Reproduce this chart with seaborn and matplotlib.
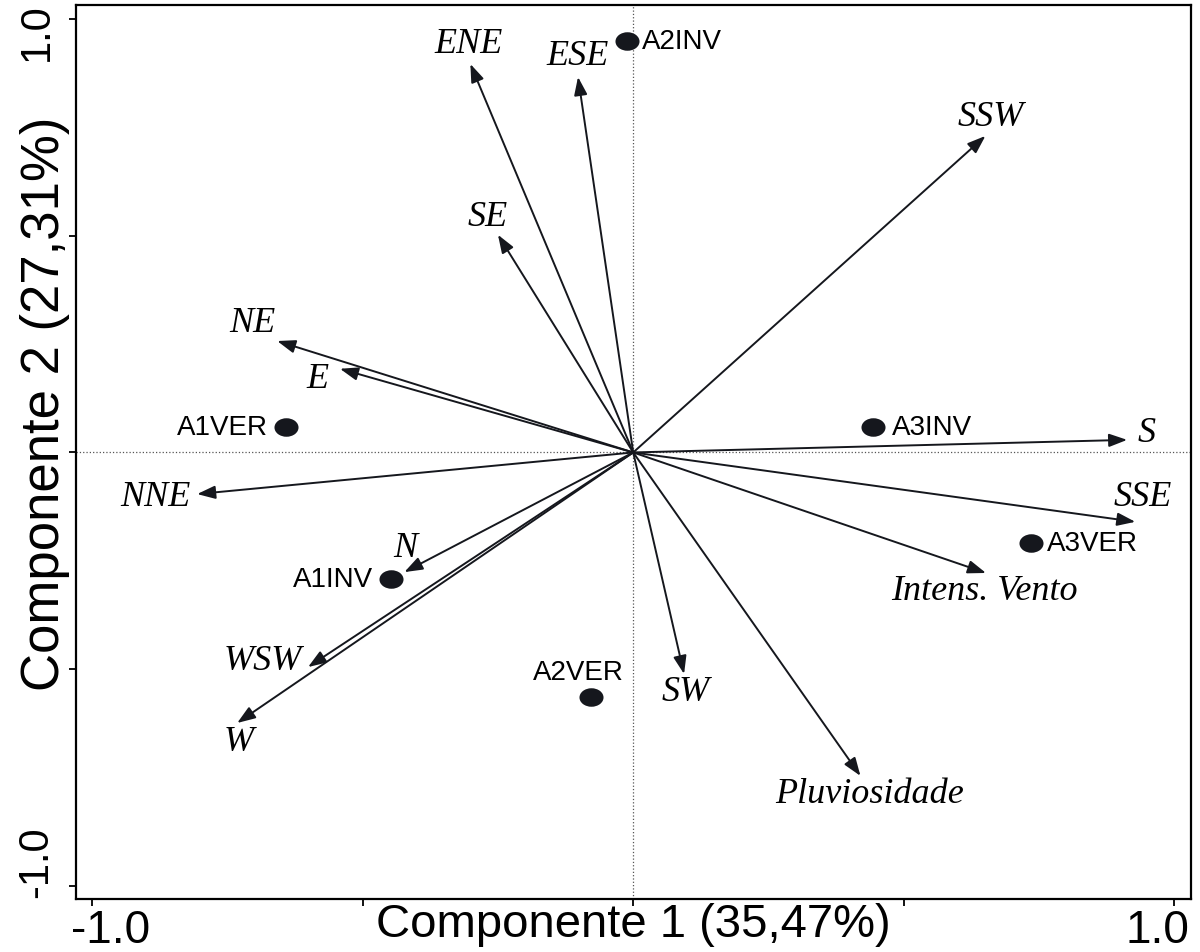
import matplotlib
matplotlib.use('Agg')
import pandas as pd
import matplotlib.pyplot as plt
import seaborn as sns
from matplotlib.path import Path
from matplotlib.transforms import Affine2D, ScaledTranslation

# loadings of the variables (arrows)
var_names = ['ENE', 'ESE', 'SSW', 'SE', 'NE', 'E', 'NNE', 'N', 'WSW', 'W',
             'SW', 'Pluviosidade', 'Intens. Vento', 'SSE', 'S']
var_pc1 = [-0.301, -0.102, 0.651, -0.250, -0.658, -0.542, -0.806, -0.423, -0.601, -0.732,
           0.094, 0.420, 0.652, 0.928, 0.913]
var_pc2 = [0.896, 0.866, 0.730, 0.502, 0.257, 0.193, -0.096, -0.276, -0.495, -0.624,
           -0.511, -0.746, -0.278, -0.160, 0.029]

# scores of the sites / seasons (points)
site_names = ['A2INV', 'A1VER', 'A3INV', 'A3VER', 'A1INV', 'A2VER']
site_pc1 = [-0.011, -0.641, 0.444, 0.736, -0.447, -0.078]
site_pc2 = [0.949, 0.059, 0.059, -0.209, -0.292, -0.564]

x_label = 'Componente 1 (35,47%)'
y_label = 'Componente 2 (27,31%)'

# where each label sits relative to its arrow tip / point (pixels)
var_offsets = {'ENE': (-2, 20), 'ESE': (0, 21), 'SSW': (5, 19), 'SE': (-10, 18),
               'NE': (-25, 19), 'E': (-22, -10), 'NNE': (-42, -2), 'N': (1, 25),
               'WSW': (-45, 7), 'W': (2, -19), 'SW': (2, -18),
               'Pluviosidade': (9, -18), 'Intens. Vento': (-2, -18),
               'SSE': (7, 25), 'S': (19, 7)}
site_offsets = {'A2INV': (15, 0, 'left'), 'A1VER': (-18, 0, 'right'),
                'A3INV': (19, 0, 'left'), 'A3VER': (16, 0, 'left'),
                'A1INV': (-18, 0, 'right'), 'A2VER': (-13, 25, 'center')}

ink = '#15171d'

sns.set_style('ticks')
plt.rcParams['font.family'] = ['Liberation Sans', 'DejaVu Sans']
plt.rcParams['text.color'] = 'black'
plt.rcParams['axes.labelcolor'] = 'black'

fig = plt.figure(figsize=(12, 9.53), dpi=100)
ax = fig.add_axes([0.0633, 0.0556, 0.9292, 0.9381])

ax.axhline(0, color='#555555', lw=0.9, ls=':', zorder=1)
ax.axvline(0, color='#555555', lw=0.9, ls=':', zorder=1)

# arrows for the variables
for name, px, py in zip(var_names, var_pc1, var_pc2):
    ax.annotate('', xy=(px, py), xytext=(0, 0),
                arrowprops=dict(arrowstyle='-|>,head_length=0.55,head_width=0.2',
                                color=ink, lw=1.4, shrinkA=0, shrinkB=0,
                                mutation_scale=20), zorder=2)
    dx, dy = var_offsets[name]
    ax.annotate(name, xy=(px, py), xytext=(dx, dy), textcoords='offset pixels',
                ha='center', va='center', fontsize=26, style='italic',
                family=['Liberation Serif', 'DejaVu Serif'], color='black', zorder=4)

# points for the sites (slightly wide dots like the original)
ellipse = Path.unit_circle().transformed(Affine2D().scale(1.3, 1.0))
sites = pd.DataFrame({'pc1': site_pc1, 'pc2': site_pc2, 'site': site_names})
sns.scatterplot(data=sites, x='pc1', y='pc2', marker=ellipse, s=300,
                color=ink, edgecolor=ink, linewidth=0, ax=ax, zorder=3)
for name, px, py in zip(site_names, site_pc1, site_pc2):
    dx, dy, ha = site_offsets[name]
    ax.annotate(name, xy=(px, py), xytext=(dx, dy), textcoords='offset pixels',
                ha=ha, va='center', fontsize=20, color='black', zorder=4)

ax.set_xlim(-1.030, 1.031)
ax.set_ylim(-1.030, 1.032)

ax.set_xticks([-1, -0.5, 0, 0.5, 1], labels=['-1.0', '', '', '', '1.0'])
ax.set_yticks([-1, -0.5, 0, 0.5, 1], labels=['-1.0', '', '', '', '1.0'])
ax.tick_params(axis='x', length=5, width=1.3, labelsize=33, pad=1.5, colors='black')
ax.tick_params(axis='y', length=5, width=1.3, labelsize=30, pad=9, colors='black',
               labelrotation=90)
for lbl in ax.get_yticklabels():
    lbl.set_va('center')

# nudge the end labels inwards like in the original
shifts_x = [18, 0, 0, 0, -17]
for lbl, sx in zip(ax.get_xticklabels(), shifts_x):
    lbl.set_transform(lbl.get_transform() + ScaledTranslation(sx / 100, 0, fig.dpi_scale_trans))
shifts_y = [25, 0, 0, 0, -12]
for lbl, sy in zip(ax.get_yticklabels(), shifts_y):
    lbl.set_transform(lbl.get_transform() + ScaledTranslation(0, sy / 100, fig.dpi_scale_trans))

ax.set_xlabel(x_label, fontsize=34, color='black')
ax.set_ylabel(y_label, fontsize=38, color='black')
ax.xaxis.set_label_coords(0.5, -0.003)
ax.yaxis.set_label_coords(-0.005, 0.555)

for sp in ax.spines.values():
    sp.set_linewidth(1.6)
    sp.set_color('black')

fig.savefig('out.png', dpi=100)
